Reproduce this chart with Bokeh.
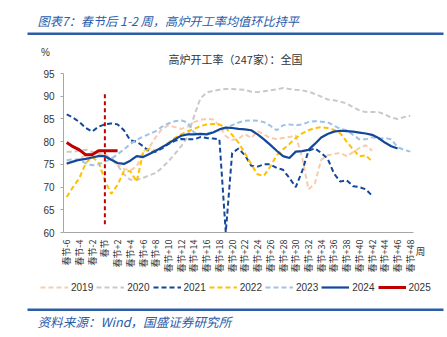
import numpy as np
from bokeh.plotting import figure
from bokeh.models import Range1d, FixedTicker, Legend, LegendItem, Label, BoxAnnotation
from bokeh.embed import file_html
from bokeh.resources import INLINE

# ---------------- data ----------------
tick_weeks = [-6, -4, -2, 0, 2, 4, 6, 8, 10, 12, 14, 16, 18, 20, 22, 24, 26, 28,
              30, 32, 34, 36, 38, 40, 42, 44, 46, 48]
tick_labels = ["春节-6", "春节-4", "春节-2", "春节", "春节+2", "春节+4", "春节+6",
               "春节+8", "春节+10", "春节+12", "春节+14", "春节+16", "春节+18",
               "春节+20", "春节+22", "春节+24", "春节+26", "春节+28", "春节+30",
               "春节+32", "春节+34", "春节+36", "春节+38", "春节+40", "春节+42",
               "春节+44", "春节+46", "春节+48"]
y_ticks = [60, 65, 70, 75, 80, 85, 90, 95]

start_week = -6
y2019 = [75.0, 75.6, 76.3, 77.0, 77.6, 77.5, 77.2, 76.5, 75.0, 74.0, 73.7, 74.5, 77.8,
         78.8, 81.0, 82.8, 83.6, 83.2, 82.8, 83.3, 84.3, 84.8, 85.0, 84.9, 83.5, 81.2,
         80.4, 80.6, 81.7, 80.8, 82.3, 81.6, 80.8, 80.6, 80.8, 81.0, 81.4, 76.5, 69.5,
         70.8, 76.0, 77.0, 77.3, 77.5, 76.8, 77.7, 78.6, 79.2, 78.0]
y2020 = [77.8, 77.8, 78.0, 78.2, 77.8, 77.3, 77.0, 76.2, 74.8, 72.8, 71.6, 71.6, 72.0,
         72.6, 73.1, 74.3, 75.7, 77.3, 79.0, 81.0, 85.5, 89.5, 90.8, 91.2, 91.4, 91.6,
         91.6, 91.5, 91.4, 91.0, 90.9, 91.1, 91.3, 91.5, 91.8, 91.6, 91.4, 91.3, 91.0,
         90.5, 89.9, 89.3, 89.1, 88.8, 88.4, 87.6, 86.9, 86.5, 86.5, 86.5, 86.0, 85.3,
         85.0, 85.4, 85.7]
y2021 = [86.0, 85.3, 84.3, 83.0, 82.2, 83.3, 83.8, 84.0, 83.8, 82.5, 80.3, 80.0, 79.0,
         77.8, 77.8, 78.5, 79.5, 80.2, 80.6, 80.5, 80.5, 81.0, 80.8, 80.7, 80.5, 60.0,
         77.5, 78.5, 77.0, 74.7, 74.5, 75.0, 75.0, 74.2, 73.8, 72.0, 70.0, 73.5, 78.0,
         78.5, 77.5, 76.3, 73.0, 71.2, 71.5, 70.2, 70.0, 69.5, 68.1]
y2022 = [67.8, 70.0, 72.0, 75.3, 76.6, 75.5, 71.5, 68.5, 70.5, 73.5, 73.5, 71.2, 77.5,
         78.5, 78.0, 78.8, 79.8, 80.8, 81.6, 82.3, 82.8, 83.4, 83.8, 83.9, 83.8, 83.0,
         81.5, 79.8, 77.5, 75.0, 72.8, 72.5, 74.5, 77.0, 78.3, 79.5, 80.8, 81.8, 82.5,
         83.0, 83.2, 83.0, 82.6, 81.8, 80.0, 78.3, 76.8, 77.0, 75.6]
y2023 = [75.9, 76.1, 76.0, 75.2, 74.8, 75.0, 75.6, 76.2, 77.2, 78.3, 79.5, 80.4, 81.1,
         81.7, 82.3, 83.3, 84.0, 84.5, 84.7, 84.2, 82.0, 81.6, 81.8, 82.1, 82.5, 83.0,
         83.6, 84.2, 84.6, 84.7, 84.6, 84.3, 83.5, 82.5, 83.6, 83.8, 83.6, 83.8, 84.3,
         84.5, 84.4, 84.3, 83.5, 82.8, 82.5, 81.5, 80.5, 80.5, 81.0, 80.6, 80.8, 80.5,
         78.8, 78.2, 77.8]
y2024 = [75.2, 75.6, 76.0, 76.2, 76.5, 76.8, 76.8, 76.0, 75.3, 75.1, 75.8, 76.8, 76.6,
         77.3, 78.0, 78.8, 79.6, 80.5, 81.3, 81.6, 81.6, 81.7, 81.6, 82.0, 82.7, 83.1,
         83.0, 82.8, 82.7, 82.5, 81.6, 80.5, 79.3, 78.0, 76.8, 76.4, 77.8, 77.9, 78.2,
         79.5, 80.9, 81.7, 82.2, 82.4, 82.3, 82.2, 82.0, 81.8, 81.5, 80.8, 79.8, 79.0,
         78.5]
y2025 = [79.8, 78.9, 78.2, 77.1, 77.1, 78.0, 78.0, 78.0, 78.0]

festival_week = 0
festival_line = [61.8, 90.8]

series = [
    ("2019", y2019, "#F8CBAD", "5 3", 2),
    ("2020", y2020, "#C9C9C9", "5 3", 2),
    ("2021", y2021, "#12479B", "5 3", 2),
    ("2022", y2022, "#FFC000", "5 3", 2),
    ("2023", y2023, "#9DC3E6", "5 3", 2),
    ("2024", y2024, "#12479B", "solid", 2.2),
    ("2025", y2025, "#C00000", "solid", 3),
]

# ---------------- geometry ----------------
W, H = 447, 337
AX_L, AX_R, AX_T, AX_B = 63, 413, 73, 232      # axes box in page pixels
X0, X1 = -6.5, 48.5
Y0, Y1 = 60, 95
kx = (AX_R - AX_L) / (X1 - X0)
ky = (AX_B - AX_T) / (Y1 - Y0)
x_range = Range1d(X0 - AX_L / kx, X1 + (W - AX_R) / kx)
y_range = Range1d(Y0 - (H - AX_B) / ky, Y1 + AX_T / ky)


def sx(px):
    return px


def sy(py):
    return H - py


p = figure(width=W, height=H, x_range=x_range, y_range=y_range,
           output_backend="svg", toolbar_location=None,
           min_border=0, min_border_left=0, min_border_right=0,
           min_border_top=0, min_border_bottom=0)
p.outline_line_color = None
p.xgrid.visible = False
p.ygrid.visible = False

# axes (drawn at fixed locations so the frame spans the whole page)
xa = p.xaxis[0]
xa.fixed_location = Y0
xa.bounds = (X0, X1)
xa.ticker = FixedTicker(ticks=tick_weeks)
xa.major_label_overrides = {w: lab for w, lab in zip(tick_weeks, tick_labels)}
xa.major_label_orientation = np.pi / 2
xa.major_tick_line_color = None
xa.minor_tick_line_color = None
xa.axis_line_color = "#A6A6A6"
xa.major_label_text_font = "Noto Sans CJK SC"
xa.major_label_text_font_size = "9px"
xa.major_label_text_color = "#333333"
xa.major_label_standoff = 1

ya = p.yaxis[0]
ya.fixed_location = X0
ya.bounds = (Y0, Y1)
ya.ticker = FixedTicker(ticks=y_ticks)
ya.axis_line_color = "#A6A6A6"
ya.major_tick_line_color = "#A6A6A6"
ya.major_tick_in = 0
ya.major_tick_out = 3
ya.minor_tick_line_color = None
ya.major_label_text_font = "Liberation Sans"
ya.major_label_text_font_size = "10px"
ya.major_label_text_color = "#333333"
ya.major_label_standoff = 6

# series
items = []
for name, vals, color, dash, lw in series:
    xs = list(range(start_week, start_week + len(vals)))
    r = p.line(xs, vals, line_color=color, line_width=lw, line_dash=dash)
    items.append(LegendItem(label=name, renderers=[r]))

# festival marker
p.segment(x0=[festival_week], y0=[festival_line[0]], x1=[festival_week], y1=[festival_line[1]],
          line_color="#C00000", line_width=2, line_dash="4 3")

legend = Legend(items=items, orientation="horizontal", location=(sx(40), sy(293)),
                border_line_color=None, background_fill_alpha=0, padding=0, margin=0,
                spacing=3, glyph_width=28, glyph_height=12, label_height=12,
                label_standoff=3, label_text_font="Liberation Sans",
                label_text_font_size="10px", label_text_color="#333333")
p.add_layout(legend, "center")

# texts
BLUE = "#2A5CAA"
p.add_layout(Label(x=sx(37), y=sy(20), x_units="screen", y_units="screen",
                   text="图表7：春节后 1-2 周，高炉开工率均值环比持平",
                   text_font="Noto Sans CJK SC", text_font_style="italic",
                   text_font_size="12.2px", text_color=BLUE, text_baseline="middle"))
p.add_layout(BoxAnnotation(left=sx(27), right=sx(443), top=sy(32), bottom=sy(34.5),
                           left_units="screen", right_units="screen",
                           top_units="screen", bottom_units="screen",
                           fill_color="#2E5DA8", fill_alpha=1, line_color=None))
p.add_layout(BoxAnnotation(left=sx(27), right=sx(443), top=sy(308), bottom=sy(310.5),
                           left_units="screen", right_units="screen",
                           top_units="screen", bottom_units="screen",
                           fill_color="#2E5DA8", fill_alpha=1, line_color=None))
p.add_layout(Label(x=sx(37), y=sy(321), x_units="screen", y_units="screen",
                   text="资料来源：Wind，国盛证券研究所",
                   text_font="Noto Sans CJK SC", text_font_style="italic",
                   text_font_size="12.6px", text_color=BLUE, text_baseline="middle"))
p.add_layout(Label(x=sx(45), y=sy(52), x_units="screen", y_units="screen", text="%",
                   text_font="Liberation Sans", text_font_size="10px", text_color="#333333",
                   text_align="center", text_baseline="middle"))
p.add_layout(Label(x=sx(235), y=sy(58), x_units="screen", y_units="screen",
                   text="高炉开工率（247家）：全国",
                   text_font="Noto Sans CJK SC", text_font_size="11px", text_color="#333333",
                   text_align="center", text_baseline="middle"))
p.add_layout(Label(x=sx(420), y=sy(250), x_units="screen", y_units="screen", text="周",
                   text_font="Noto Sans CJK SC", text_font_size="9.5px", text_color="#333333",
                   text_align="center", text_baseline="middle"))

open("out.html", "w").write(file_html(p, INLINE))
